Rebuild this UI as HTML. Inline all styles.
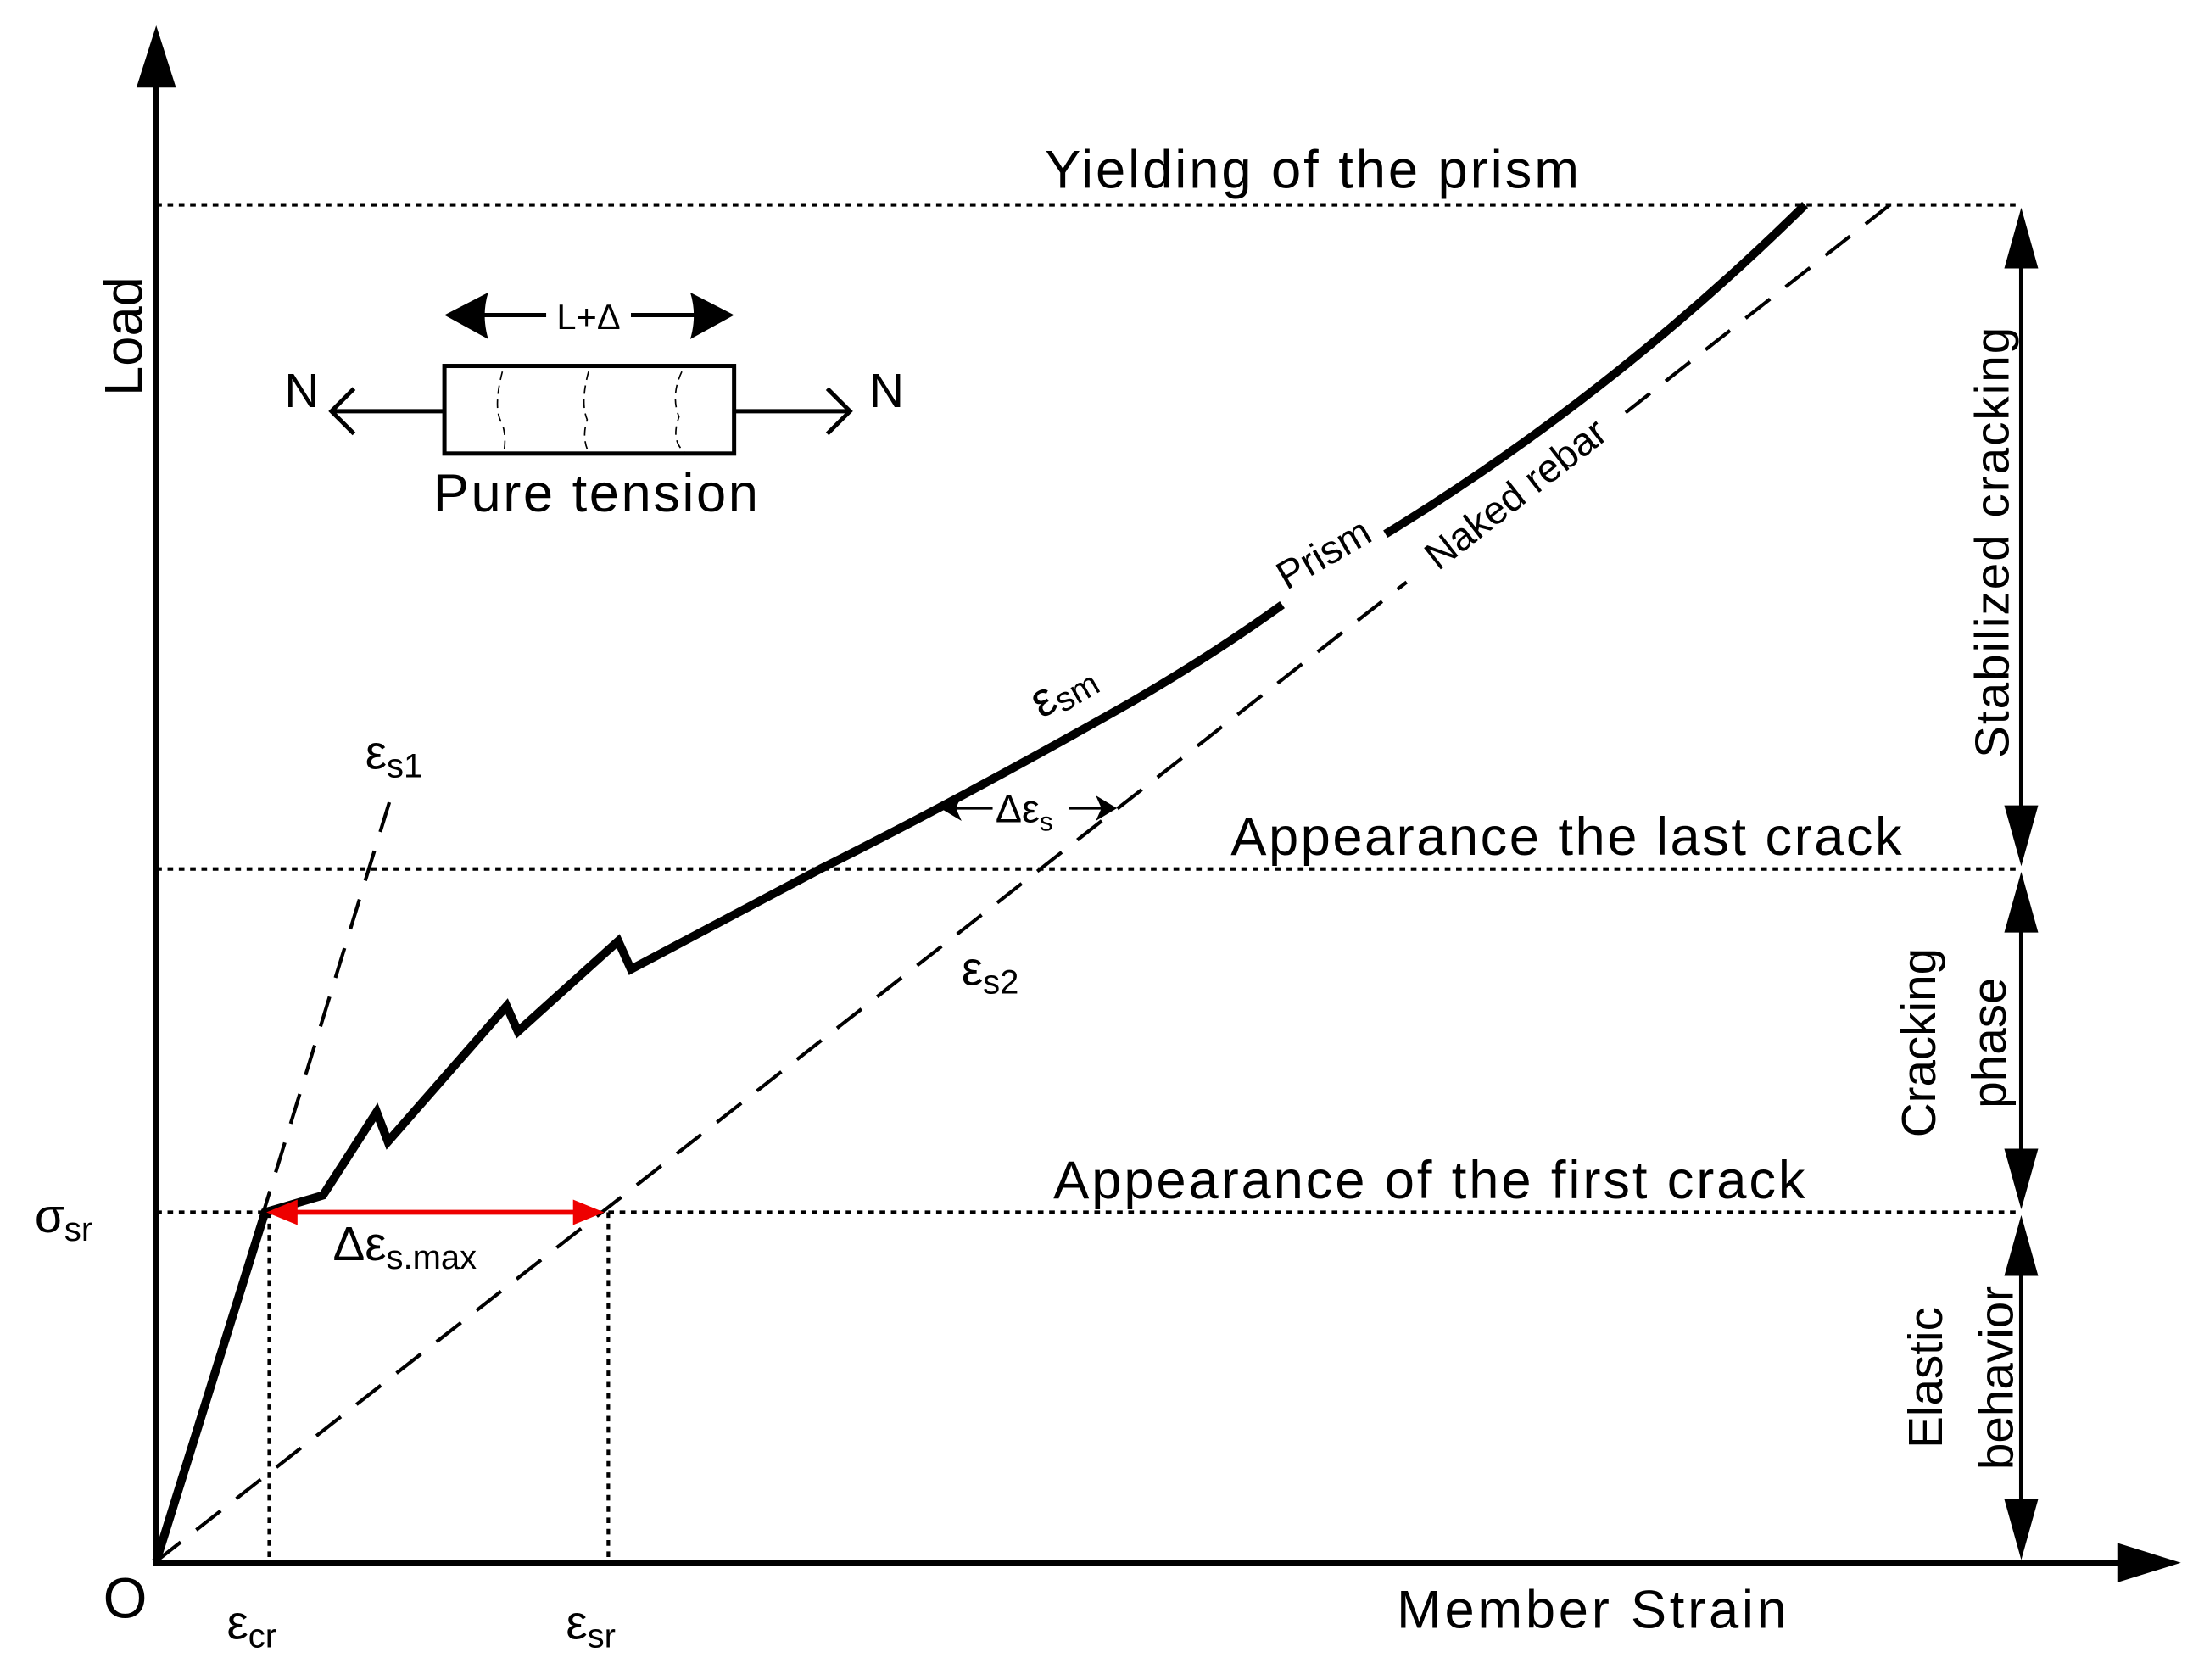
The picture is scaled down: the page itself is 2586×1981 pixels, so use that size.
<!DOCTYPE html>
<html><head><meta charset="utf-8"><style>
html,body{margin:0;padding:0;background:#fff;}
svg{display:block;}
text{font-family:"Liberation Sans",sans-serif;fill:#000;}
</style></head><body>
<svg width="2586" height="1981" viewBox="0 0 1551 1189" xmlns="http://www.w3.org/2000/svg">
<!-- axes -->
<line x1="110" y1="1106" x2="110" y2="60" stroke="#000" stroke-width="4"/>
<path d="M110,18 L96,62 L124,62 Z" fill="#000"/>
<line x1="108" y1="1106" x2="1500" y2="1106" stroke="#000" stroke-width="4"/>
<path d="M1543,1106 L1498,1092 L1498,1120 Z" fill="#000"/>
<!-- dotted lines -->
<g stroke="#000" stroke-width="2.5" stroke-dasharray="4,4">
<line x1="110" y1="145" x2="1430" y2="145"/>
<line x1="110" y1="615" x2="1430" y2="615"/>
<line x1="110" y1="858" x2="1430" y2="858"/>
<line x1="190" y1="858" x2="190" y2="1105"/>
<line x1="430" y1="858" x2="430" y2="1105"/>
</g>
<!-- right arrows -->
<g stroke="#000" stroke-width="3">
<line x1="1430" y1="180" x2="1430" y2="580"/>
<line x1="1430" y1="650" x2="1430" y2="823"/>
<line x1="1430" y1="893" x2="1430" y2="1070"/>
</g>
<g fill="#000">
<path d="M1430,147 L1418,190 L1442,190 Z"/>
<path d="M1430,613 L1418,570 L1442,570 Z"/>
<path d="M1430,617 L1418,660 L1442,660 Z"/>
<path d="M1430,856 L1418,813 L1442,813 Z"/>
<path d="M1430,860 L1418,903 L1442,903 Z"/>
<path d="M1430,1104 L1418,1061 L1442,1061 Z"/>
</g>
<!-- dashed lines -->
<g stroke="#000" stroke-width="2.5" stroke-dasharray="22,14" fill="none">
<line x1="110" y1="1105" x2="278" y2="558"/>
<line x1="110" y1="1105" x2="995" y2="412"/>
<line x1="1150" y1="292" x2="1337" y2="145"/>
</g>
<!-- prism curve -->
<path d="M110,1105 L187,858 L228,846 L266,787 L274,808 L358,712 L366,730 L437,666 L446,686 L580,615 Q680,565 800,497 Q860,462 907,428" stroke="#000" stroke-width="6" fill="none" stroke-linejoin="miter"/>
<path d="M980,378 Q1140,280 1277,145" stroke="#000" stroke-width="6" fill="none"/>
<!-- red arrow -->
<line x1="205" y1="858" x2="410" y2="858" stroke="#e00" stroke-width="3.5"/>
<path d="M188,858 L210,849 L210,867 Z" fill="#e00"/>
<path d="M427,858 L405,849 L405,867 Z" fill="#e00"/>
<!-- small delta eps arrow -->
<line x1="668" y1="572" x2="702" y2="572" stroke="#000" stroke-width="2"/>
<line x1="756" y1="572" x2="786" y2="572" stroke="#000" stroke-width="2"/>
<path d="M665,572 L680,563 L676,572 L680,581 Z" fill="#000"/>
<path d="M790,572 L775,563 L779,572 L775,581 Z" fill="#000"/>
<text x="704" y="582" font-size="28">Δε<tspan font-size="19" dy="6">s</tspan></text>
<!-- inset -->
<rect x="314" y="259" width="205" height="62" fill="none" stroke="#000" stroke-width="3"/>
<g stroke="#000" stroke-width="1" stroke-dasharray="6,4" fill="none">
<path d="M355,263 Q348,290 355,300 Q358,310 356,320"/>
<path d="M416,263 Q410,285 415,297 Q411,310 416,320"/>
<path d="M482,263 Q474,280 480,295 Q474,312 484,320"/>
</g>
<line x1="236" y1="291" x2="314" y2="291" stroke="#000" stroke-width="3"/>
<path d="M250,275 L234,291 L250,307" stroke="#000" stroke-width="3" fill="none"/>
<line x1="519" y1="291" x2="600" y2="291" stroke="#000" stroke-width="3"/>
<path d="M585,275 L601,291 L585,307" stroke="#000" stroke-width="3" fill="none"/>
<line x1="335" y1="223" x2="386" y2="223" stroke="#000" stroke-width="3"/>
<line x1="446" y1="223" x2="498" y2="223" stroke="#000" stroke-width="3"/>
<path d="M314,223 L345,207 Q340,223 345,240 Z" fill="#000"/>
<path d="M519,223 L488,207 Q493,223 488,240 Z" fill="#000"/>
<text x="416" y="233" font-size="25" text-anchor="middle">L+Δ</text>
<text x="213" y="288" font-size="34" text-anchor="middle">N</text>
<text x="627" y="288" font-size="34" text-anchor="middle">N</text>
<text x="421" y="362" font-size="38" text-anchor="middle" textLength="230">Pure tension</text>
<!-- labels -->
<text x="928" y="133" font-size="38" text-anchor="middle" textLength="378">Yielding of the prism</text>
<text x="1108" y="605" font-size="38" text-anchor="middle" textLength="475">Appearance the last crack</text>
<text x="1011" y="848" font-size="38" text-anchor="middle" textLength="532">Appearance of the first crack</text>
<text x="1126" y="1152" font-size="38" text-anchor="middle" textLength="276">Member Strain</text>
<text x="88" y="1145" font-size="40" text-anchor="middle">O</text>
<text transform="translate(100,238) rotate(-90)" font-size="38" text-anchor="middle">Load</text>
<text x="24" y="872" font-size="34">σ<tspan font-size="24" dy="6">sr</tspan></text>
<text x="160" y="1160" font-size="34">ε<tspan font-size="24" dy="6">cr</tspan></text>
<text x="400" y="1160" font-size="34">ε<tspan font-size="24" dy="6">sr</tspan></text>
<text x="258" y="544" font-size="34">ε<tspan font-size="24" dy="6">s1</tspan></text>
<text x="680" y="697" font-size="34">ε<tspan font-size="24" dy="6">s2</tspan></text>
<text x="235" y="892" font-size="34">Δε<tspan font-size="24" dy="6">s.max</tspan></text>
<text transform="translate(757,497) rotate(-30)" font-size="34" text-anchor="middle">ε<tspan font-size="24" dy="4">sm</tspan></text>
<text transform="translate(941,400) rotate(-30)" font-size="28" text-anchor="middle">Prism</text>
<text transform="translate(1078,357) rotate(-38)" font-size="28" text-anchor="middle">Naked rebar</text>
<text transform="translate(1421,384) rotate(-90)" font-size="34" text-anchor="middle" textLength="305">Stabilized cracking</text>
<text transform="translate(1369,738) rotate(-90)" font-size="34" text-anchor="middle">Cracking</text>
<text transform="translate(1419,738) rotate(-90)" font-size="34" text-anchor="middle">phase</text>
<text transform="translate(1374,975) rotate(-90)" font-size="34" text-anchor="middle">Elastic</text>
<text transform="translate(1424,975) rotate(-90)" font-size="34" text-anchor="middle">behavior</text>
</svg>
</body></html>
